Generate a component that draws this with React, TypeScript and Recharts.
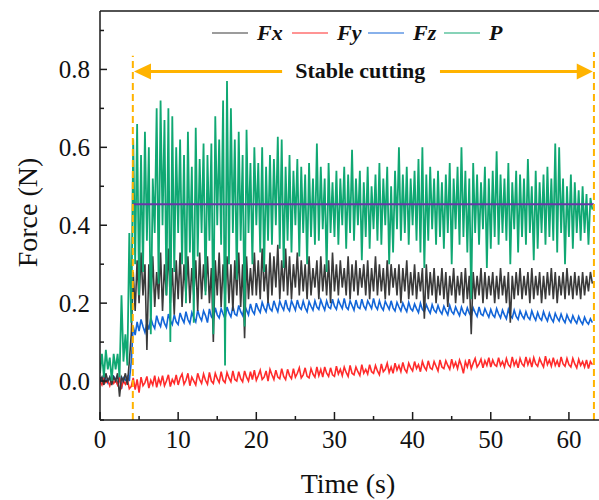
import React from 'react';
import { LineChart, Line, XAxis, YAxis, ReferenceLine, ReferenceDot } from 'recharts';

// Sampling step of the recorded signals (s)
const TIME_STEP = 0.25;

// Fx (dark gray)
const fxValues = [
  0.00, 0.01, -0.01, 0.02, 0.00, 0.01, -0.01, 0.01,
  0.00, 0.02, -0.04, 0.01, 0.00, 0.02, -0.01, 0.05,
  0.12, 0.28, 0.18, 0.31, 0.20, 0.33, 0.22, 0.30,
  0.08, 0.30, 0.20, 0.32, 0.19, 0.28, 0.21, 0.33,
  0.18, 0.30, 0.22, 0.34, 0.20, 0.29, 0.17, 0.31,
  0.21, 0.33, 0.19, 0.30, 0.22, 0.32, 0.20, 0.29,
  0.22, 0.31, 0.18, 0.33, 0.21, 0.30, 0.23, 0.32,
  0.20, 0.29, 0.10, 0.31, 0.22, 0.33, 0.19, 0.30,
  0.21, 0.32, 0.20, 0.30, 0.18, 0.31, 0.22, 0.33,
  0.19, 0.30, 0.11, 0.32, 0.21, 0.29, 0.22, 0.33,
  0.22, 0.31, 0.21, 0.34, 0.23, 0.30, 0.20, 0.33,
  0.22, 0.32, 0.24, 0.35, 0.21, 0.31, 0.23, 0.34,
  0.22, 0.32, 0.21, 0.30, 0.24, 0.33, 0.22, 0.31,
  0.23, 0.30, 0.21, 0.32, 0.22, 0.29, 0.24, 0.31,
  0.21, 0.32, 0.23, 0.30, 0.22, 0.31, 0.20, 0.33,
  0.23, 0.30, 0.22, 0.31, 0.24, 0.29, 0.22, 0.32,
  0.21, 0.30, 0.23, 0.31, 0.22, 0.29, 0.24, 0.30,
  0.22, 0.31, 0.21, 0.29, 0.23, 0.32, 0.22, 0.30,
  0.23, 0.29, 0.21, 0.31, 0.22, 0.30, 0.24, 0.29,
  0.22, 0.30, 0.20, 0.29, 0.23, 0.31, 0.21, 0.28,
  0.22, 0.30, 0.21, 0.28, 0.23, 0.29, 0.16, 0.30,
  0.21, 0.28, 0.22, 0.29, 0.20, 0.27, 0.22, 0.29,
  0.21, 0.28, 0.19, 0.27, 0.22, 0.29, 0.20, 0.27,
  0.22, 0.28, 0.20, 0.29, 0.21, 0.27, 0.12, 0.28,
  0.21, 0.27, 0.22, 0.29, 0.20, 0.28, 0.21, 0.27,
  0.22, 0.28, 0.20, 0.27, 0.21, 0.29, 0.22, 0.27,
  0.20, 0.28, 0.15, 0.27, 0.21, 0.28, 0.22, 0.29,
  0.21, 0.27, 0.22, 0.28, 0.20, 0.29, 0.21, 0.27,
  0.22, 0.28, 0.20, 0.27, 0.21, 0.28, 0.22, 0.29,
  0.21, 0.28, 0.20, 0.27, 0.22, 0.28, 0.21, 0.29,
  0.22, 0.27, 0.21, 0.28, 0.22, 0.27, 0.21, 0.28,
  0.22, 0.27, 0.23, 0.28, 0.25,
];

// Fy (red)
const fyValues = [
  0.000, -0.010, 0.006, -0.004, 0.002, -0.012, 0.004, -0.006,
  0.002, -0.010, 0.006, -0.016, 0.000, -0.008, 0.004, -0.020,
  -0.014, 0.008, -0.022, 0.004, -0.030, 0.010, -0.012, -0.004,
  0.012, -0.018, 0.002, -0.010, 0.014, -0.016, 0.006, -0.008,
  0.014, -0.012, 0.000, 0.016, -0.014, 0.004, -0.006, 0.016,
  -0.010, 0.008, 0.018, -0.008, 0.002, 0.020, -0.012, 0.010,
  0.000, -0.010, 0.020, 0.004, -0.006, 0.018, 0.002, -0.008,
  0.022, 0.000, -0.006, 0.020, 0.006, -0.004, 0.024, 0.002,
  -0.004, 0.022, 0.008, -0.002, 0.026, 0.004, 0.000, 0.024,
  0.006, -0.002, 0.026, 0.010, 0.000, 0.024, 0.004, 0.028,
  0.002, 0.014, 0.028, 0.004, 0.010, 0.026, 0.000, 0.030,
  0.016, 0.004, 0.028, 0.010, 0.006, 0.032, 0.012, 0.004,
  0.030, 0.014, 0.006, 0.032, 0.010, 0.020, 0.034, 0.008,
  0.016, 0.034, 0.012, 0.008, 0.032, 0.018, 0.010, 0.036,
  0.014, 0.030, 0.010, 0.036, 0.020, 0.012, 0.034, 0.016,
  0.012, 0.038, 0.018, 0.030, 0.014, 0.036, 0.022, 0.012,
  0.040, 0.020, 0.016, 0.036, 0.024, 0.014, 0.042, 0.020,
  0.030, 0.018, 0.042, 0.024, 0.020, 0.040, 0.026, 0.016,
  0.044, 0.024, 0.030, 0.046, 0.022, 0.036, 0.020, 0.046,
  0.028, 0.040, 0.024, 0.048, 0.030, 0.022, 0.046, 0.034,
  0.026, 0.050, 0.032, 0.042, 0.024, 0.050, 0.036, 0.028,
  0.052, 0.034, 0.030, 0.050, 0.038, 0.026, 0.054, 0.036,
  0.032, 0.052, 0.040, 0.030, 0.056, 0.036, 0.048, 0.032,
  0.054, 0.040, 0.020, 0.050, 0.036, 0.056, 0.032, 0.046,
  0.058, 0.036, 0.044, 0.056, 0.034, 0.052, 0.040, 0.060,
  0.036, 0.054, 0.042, 0.038, 0.060, 0.040, 0.050, 0.036,
  0.058, 0.042, 0.036, 0.062, 0.040, 0.052, 0.034, 0.058,
  0.044, 0.038, 0.062, 0.042, 0.056, 0.036, 0.060, 0.044,
  0.038, 0.058, 0.046, 0.036, 0.064, 0.042, 0.054, 0.038,
  0.060, 0.040, 0.052, 0.036, 0.062, 0.044, 0.038, 0.058,
  0.042, 0.036, 0.058, 0.044, 0.034, 0.056, 0.040, 0.050,
  0.036, 0.054, 0.032, 0.050, 0.042,
];

// Fz (blue)
const fzValues = [
  0.010, 0.000, 0.015, 0.005, -0.005, 0.010, 0.000, 0.012,
  0.005, -0.008, 0.012, -0.020, 0.008, 0.002, 0.012, 0.000,
  0.050, 0.140, 0.118, 0.152, 0.128, 0.158, 0.140, 0.125,
  0.150, 0.132, 0.162, 0.145, 0.135, 0.168, 0.150, 0.140,
  0.166, 0.148, 0.138, 0.172, 0.155, 0.145, 0.170, 0.152,
  0.145, 0.175, 0.160, 0.150, 0.178, 0.158, 0.148, 0.176,
  0.162, 0.152, 0.182, 0.165, 0.155, 0.180, 0.168, 0.150,
  0.185, 0.165, 0.158, 0.188, 0.170, 0.162, 0.186, 0.172,
  0.160, 0.190, 0.175, 0.165, 0.192, 0.172, 0.168, 0.194,
  0.178, 0.168, 0.196, 0.182, 0.170, 0.198, 0.180, 0.172,
  0.200, 0.185, 0.176, 0.202, 0.188, 0.178, 0.204, 0.186,
  0.180, 0.206, 0.190, 0.178, 0.205, 0.192, 0.182, 0.208,
  0.188, 0.180, 0.206, 0.194, 0.182, 0.208, 0.190, 0.184,
  0.205, 0.188, 0.178, 0.204, 0.192, 0.182, 0.206, 0.190,
  0.184, 0.208, 0.194, 0.182, 0.206, 0.190, 0.186, 0.210,
  0.192, 0.184, 0.208, 0.196, 0.186, 0.212, 0.190, 0.184,
  0.206, 0.194, 0.182, 0.208, 0.190, 0.186, 0.210, 0.192,
  0.184, 0.206, 0.196, 0.186, 0.212, 0.192, 0.184, 0.206,
  0.190, 0.182, 0.205, 0.194, 0.184, 0.206, 0.188, 0.180,
  0.202, 0.190, 0.180, 0.200, 0.188, 0.178, 0.202, 0.186,
  0.180, 0.198, 0.186, 0.176, 0.200, 0.184, 0.178, 0.196,
  0.184, 0.174, 0.196, 0.182, 0.176, 0.194, 0.180, 0.172,
  0.192, 0.180, 0.170, 0.194, 0.178, 0.172, 0.190, 0.178,
  0.168, 0.190, 0.176, 0.170, 0.188, 0.174, 0.166, 0.188,
  0.176, 0.166, 0.190, 0.172, 0.168, 0.186, 0.174, 0.164,
  0.184, 0.170, 0.164, 0.186, 0.172, 0.162, 0.182, 0.170,
  0.160, 0.184, 0.168, 0.162, 0.182, 0.166, 0.158, 0.180,
  0.168, 0.160, 0.178, 0.164, 0.158, 0.180, 0.166, 0.156,
  0.176, 0.162, 0.156, 0.178, 0.164, 0.154, 0.174, 0.160,
  0.152, 0.174, 0.162, 0.154, 0.172, 0.158, 0.150, 0.170,
  0.158, 0.150, 0.168, 0.156, 0.148, 0.166, 0.154, 0.146,
  0.164, 0.152, 0.146, 0.160, 0.150,
];

// P (green)
const pValues = [
  0.02, 0.07, 0.01, 0.08, 0.03, 0.06, 0.00, 0.07,
  0.03, 0.07, 0.01, 0.22, 0.05, 0.12, 0.04, 0.38,
  0.15, 0.62, 0.30, 0.66, 0.22, 0.58, 0.28, 0.64,
  0.36, 0.60, 0.12, 0.52, 0.38, 0.70, 0.25, 0.72,
  0.40, 0.67, 0.22, 0.70, 0.10, 0.68, 0.28, 0.60,
  0.38, 0.62, 0.30, 0.58, 0.20, 0.64, 0.33, 0.55,
  0.15, 0.65, 0.32, 0.57, 0.38, 0.61, 0.22, 0.58,
  0.36, 0.61, 0.12, 0.68, 0.40, 0.62, 0.35, 0.72,
  0.04, 0.77, 0.30, 0.70, 0.38, 0.62, 0.26, 0.64,
  0.36, 0.58, 0.14, 0.645, 0.38, 0.56, 0.30, 0.60,
  0.40, 0.56, 0.33, 0.60, 0.28, 0.55, 0.36, 0.58,
  0.35, 0.57, 0.40, 0.627, 0.34, 0.62, 0.29, 0.55,
  0.36, 0.58, 0.33, 0.54, 0.40, 0.57, 0.32, 0.55,
  0.38, 0.53, 0.30, 0.56, 0.37, 0.52, 0.35, 0.61,
  0.36, 0.55, 0.39, 0.52, 0.28, 0.56, 0.38, 0.51,
  0.37, 0.54, 0.35, 0.52, 0.40, 0.55, 0.34, 0.53,
  0.38, 0.594, 0.36, 0.52, 0.40, 0.54, 0.31, 0.51,
  0.37, 0.55, 0.34, 0.50, 0.39, 0.53, 0.36, 0.56,
  0.35, 0.52, 0.40, 0.55, 0.30, 0.50, 0.33, 0.54,
  0.39, 0.60, 0.36, 0.53, 0.38, 0.55, 0.35, 0.52,
  0.40, 0.54, 0.36, 0.57, 0.33, 0.60, 0.29, 0.53,
  0.36, 0.55, 0.39, 0.52, 0.35, 0.54, 0.37, 0.51,
  0.34, 0.53, 0.38, 0.56, 0.30, 0.52, 0.39, 0.55,
  0.35, 0.60, 0.37, 0.54, 0.33, 0.52, 0.21, 0.56,
  0.38, 0.53, 0.35, 0.51, 0.39, 0.55, 0.29, 0.52,
  0.34, 0.54, 0.37, 0.59, 0.35, 0.53, 0.38, 0.52,
  0.36, 0.56, 0.30, 0.51, 0.39, 0.54, 0.33, 0.53,
  0.37, 0.52, 0.35, 0.57, 0.38, 0.50, 0.31, 0.54,
  0.34, 0.51, 0.38, 0.53, 0.35, 0.55, 0.37, 0.52,
  0.36, 0.61, 0.33, 0.60, 0.38, 0.52, 0.30, 0.50,
  0.37, 0.53, 0.34, 0.51, 0.38, 0.49, 0.36, 0.50,
  0.38, 0.48, 0.35, 0.47, 0.44,
];

// Mean level of P during stable cutting
const meanStart = 4.2;
const meanEnd = 63.2;
const meanLevel = 0.454;

// Stable cutting window
const stableStart = 4.2;
const stableEnd = 63.2;
const stableLabel = 'Stable cutting';

// Axes
const xTicks = [0, 5, 10, 15, 20, 25, 30, 35, 40, 45, 50, 55, 60, 65];
const xLabelTicks = [0, 10, 20, 30, 40, 50, 60];
const yTicks = [-0.1, 0, 0.1, 0.2, 0.3, 0.4, 0.5, 0.6, 0.7, 0.8, 0.9];
const yLabelTicks = [0, 0.2, 0.4, 0.6, 0.8];

const series = [
  { key: 'fx', name: 'Fx', color: '#3a3a3a' },
  { key: 'fy', name: 'Fy', color: '#ff2b2b' },
  { key: 'fz', name: 'Fz', color: '#1265d8' },
  { key: 'p', name: 'P', color: '#10a873' },
];

const data = pValues.map((_, i) => ({
  t: Math.round(i * TIME_STEP * 100) / 100,
  fx: fxValues[i],
  fy: fyValues[i],
  fz: fzValues[i],
  p: pValues[i],
}));

const meanData = [
  { t: meanStart, v: meanLevel },
  { t: meanEnd, v: meanLevel },
];

const FONT = "'Liberation Serif', 'Times New Roman', serif";
const ORANGE = '#ffb300';
const AXIS = '#1a1a1a';
const X_TICK_MARGIN = 10;
const Y_TICK_MARGIN = 10;

const YTick = (props: any) => {
  const { x, y, payload } = props;
  const v = payload.value as number;
  const ax = x + Y_TICK_MARGIN;
  const major = yLabelTicks.some((l) => Math.abs(l - v) < 1e-6);
  return (
    <g>
      <line x1={ax} x2={ax + (major ? 7 : 4)} y1={y} y2={y} stroke={AXIS} strokeWidth={1.5} />
      {major && (
        <text x={x} y={y} dy="0.34em" textAnchor="end" fontSize={25} fontFamily={FONT} fill="#111">
          {v.toFixed(1)}
        </text>
      )}
    </g>
  );
};

const XTick = (props: any) => {
  const { x, y, payload } = props;
  const v = payload.value as number;
  const ay = y - X_TICK_MARGIN;
  const major = xLabelTicks.includes(v);
  return (
    <g>
      <line x1={x} x2={x} y1={ay} y2={ay - (major ? 8 : 4)} stroke={AXIS} strokeWidth={1.5} />
      {major && (
        <text x={x} y={y} dy="0.71em" textAnchor="middle" fontSize={25} fontFamily={FONT} fill="#111">
          {v}
        </text>
      )}
    </g>
  );
};

const XTitle = (props: any) => {
  const vb = props.viewBox || { x: 100, y: 420, width: 508, height: 30 };
  return (
    <text x={vb.x + vb.width / 2 - 6} y={vb.y + 73} textAnchor="middle" fontSize={28} fontFamily={FONT} fill="#111">
      Time (s)
    </text>
  );
};

const YTitle = (props: any) => {
  const vb = props.viewBox || { x: 40, y: 11, width: 60, height: 409 };
  const cx = 27;
  const cy = vb.y + vb.height / 2 - 3;
  return (
    <text
      x={cx}
      y={cy}
      transform={`rotate(-90 ${cx} ${cy})`}
      textAnchor="middle"
      dominantBaseline="central"
      fontSize={28}
      fontFamily={FONT}
      fill="#111"
    >
      Force (N)
    </text>
  );
};

const LeftHead = (props: any) => (
  <path d={`M${props.cx},${props.cy} l17,-8 l0,16 z`} fill={ORANGE} />
);
const RightHead = (props: any) => (
  <path d={`M${props.cx},${props.cy} l-16,-8 l0,16 z`} fill={ORANGE} />
);
const StableText = (props: any) => (
  <text
    x={props.cx}
    y={props.cy}
    dy="0.3em"
    textAnchor="middle"
    fontSize={22}
    fontWeight="bold"
    fontFamily={FONT}
    fill="#111"
  >
    {stableLabel}
  </text>
);

const legendPos = [212, 292, 368, 444];

export default function App() {
  return (
    <div
      style={{
        position: 'absolute',
        left: 0,
        top: 0,
        width: 599,
        height: 500,
        overflow: 'hidden',
        background: '#fff',
      }}
    >
      <LineChart width={620} height={500} data={data} margin={{ top: 11, right: 12, left: 40, bottom: 50 }}>
        <XAxis
          dataKey="t"
          type="number"
          domain={[0, 65]}
          ticks={xTicks}
          interval={0}
          tickSize={0}
          tickMargin={X_TICK_MARGIN}
          tick={<XTick />}
          tickLine={false}
          axisLine={{ stroke: AXIS, strokeWidth: 1.5 }}
          allowDataOverflow
          label={<XTitle />}
          height={30}
        />
        <YAxis
          type="number"
          domain={[-0.1, 0.95]}
          ticks={yTicks}
          interval={0}
          tickSize={0}
          tickMargin={Y_TICK_MARGIN}
          tick={<YTick />}
          tickLine={false}
          axisLine={{ stroke: AXIS, strokeWidth: 1.5 }}
          allowDataOverflow
          width={60}
          label={<YTitle />}
        />
        <ReferenceLine y={0.95} stroke={AXIS} strokeWidth={1.5} />
        <ReferenceLine x={65} stroke={AXIS} strokeWidth={1.5} />

        <Line dataKey="fz" stroke="#1265d8" strokeWidth={1.6} dot={false} isAnimationActive={false} />
        <Line dataKey="fy" stroke="#ff2b2b" strokeWidth={1.6} dot={false} isAnimationActive={false} />
        <Line dataKey="fx" stroke="#3a3a3a" strokeWidth={1.6} dot={false} isAnimationActive={false} />
        <Line dataKey="p" stroke="#10a873" strokeWidth={1.8} dot={false} isAnimationActive={false} />
        <Line
          data={meanData}
          dataKey="v"
          stroke="#6a35a8"
          strokeWidth={2}
          dot={false}
          isAnimationActive={false}
        />

        <ReferenceLine
          segment={[{ x: stableStart, y: -0.1 }, { x: stableStart, y: 0.835 }]}
          stroke={ORANGE}
          strokeWidth={2}
          strokeDasharray="7 4"
        />
        <ReferenceLine
          segment={[{ x: stableEnd, y: -0.1 }, { x: stableEnd, y: 0.845 }]}
          stroke={ORANGE}
          strokeWidth={2}
          strokeDasharray="7 4"
        />
        <ReferenceLine
          segment={[{ x: 5.5, y: 0.795 }, { x: 23.3, y: 0.795 }]}
          stroke={ORANGE}
          strokeWidth={3}
        />
        <ReferenceLine
          segment={[{ x: 43.5, y: 0.795 }, { x: 61.6, y: 0.795 }]}
          stroke={ORANGE}
          strokeWidth={3}
        />
        <ReferenceDot x={4.35} y={0.795} shape={<LeftHead />} />
        <ReferenceDot x={63.05} y={0.795} shape={<RightHead />} />
        <ReferenceDot x={33.3} y={0.795} shape={<StableText />} />
      </LineChart>

      <svg
        width={599}
        height={60}
        style={{ position: 'absolute', left: 0, top: 0, pointerEvents: 'none' }}
      >
        {series.map((s, i) => (
          <g key={s.key}>
            <line x1={legendPos[i]} x2={legendPos[i] + 36} y1={33} y2={33} stroke={s.color} strokeWidth={1.2} />
            <text
              x={legendPos[i] + 45}
              y={33}
              dy="0.33em"
              fontSize={22}
              fontWeight="bold"
              fontStyle="italic"
              fontFamily={FONT}
              fill="#111"
            >
              {s.name}
            </text>
          </g>
        ))}
      </svg>
    </div>
  );
}
